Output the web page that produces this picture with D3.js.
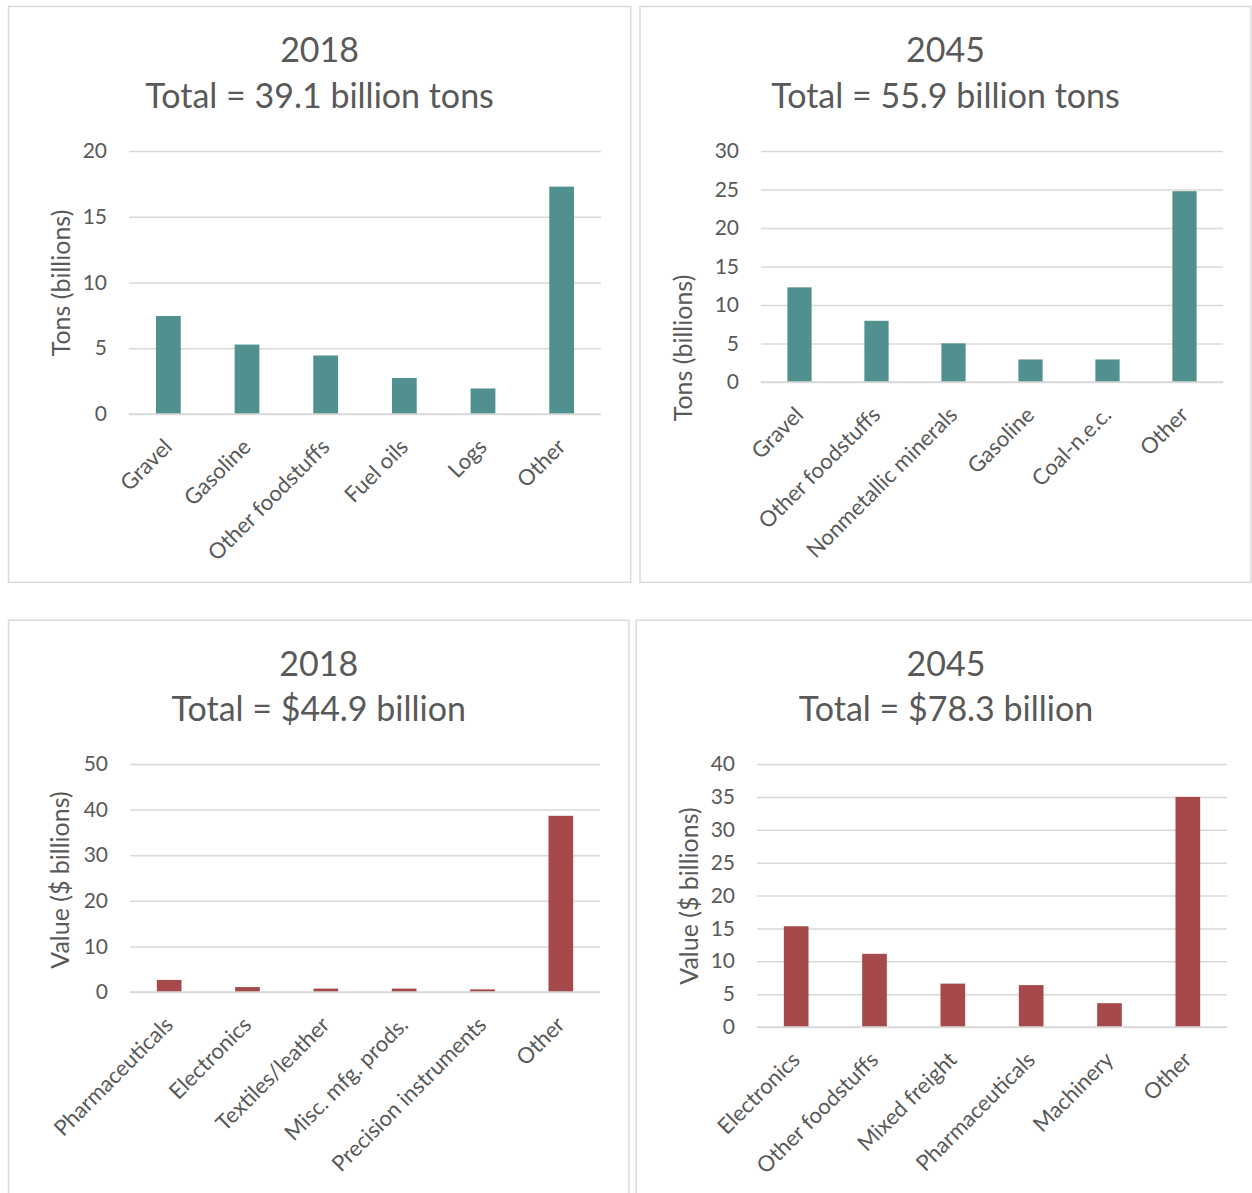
<!DOCTYPE html>
<html>
<head>
<meta charset="utf-8">
<script src="https://cdn.jsdelivr.net/npm/d3@7"></script>
<style>
  html, body { margin: 0; padding: 0; background: #fff; }
  svg { display: block; }
  text { font-family: Lato, "Open Sans", sans-serif; fill: #595959; }
</style>
</head>
<body>
<svg id="chart" width="1252" height="1193"></svg>
<script>
// Freight tonnage (billions of tons) by commodity
const tons2018Categories = ["Gravel", "Gasoline", "Other foodstuffs", "Fuel oils", "Logs", "Other"];
const tons2018Values = [7.45, 5.28, 4.45, 2.74, 1.94, 17.29];
const tons2018Ticks = [0, 5, 10, 15, 20];

const tons2045Categories = ["Gravel", "Other foodstuffs", "Nonmetallic minerals", "Gasoline", "Coal-n.e.c.", "Other"];
const tons2045Values = [12.29, 7.95, 5.02, 2.93, 2.93, 24.78];
const tons2045Ticks = [0, 5, 10, 15, 20, 25, 30];

// Freight value ($ billions) by commodity
const value2018Categories = ["Pharmaceuticals", "Electronics", "Textiles/leather", "Misc. mfg. prods.", "Precision instruments", "Other"];
const value2018Values = [2.65, 1.08, 0.75, 0.75, 0.58, 38.64];
const value2018Ticks = [0, 10, 20, 30, 40, 50];

const value2045Categories = ["Electronics", "Other foodstuffs", "Mixed freight", "Pharmaceuticals", "Machinery", "Other"];
const value2045Values = [15.32, 11.13, 6.6, 6.37, 3.62, 35.0];
const value2045Ticks = [0, 5, 10, 15, 20, 25, 30, 35, 40];

const panelYears = ["2018", "2045", "2018", "2045"];
const panelTotals = ["Total = 39.1 billion tons", "Total = 55.9 billion tons", "Total = $44.9 billion", "Total = $78.3 billion"];
const axisTitles = ["Tons (billions)", "Tons (billions)", "Value ($ billions)", "Value ($ billions)"];

const TEAL = "#50918F";
const RED = "#A5494A";

// Panel geometry: frame, plot area, axis-title centre, title baselines
const panels = [
  { cats: tons2018Categories, vals: tons2018Values, ticks: tons2018Ticks, color: TEAL,
    frame: [8.5, 6.5, 622.2, 575.8], plot: [129, 601, 151, 414], axisTitle: [60, 283], titleY: [62, 108] },
  { cats: tons2045Categories, vals: tons2045Values, ticks: tons2045Ticks, color: TEAL,
    frame: [640, 6.5, 611, 575.8], plot: [761, 1223, 151, 382], axisTitle: [681.5, 348], titleY: [62, 108] },
  { cats: value2018Categories, vals: value2018Values, ticks: value2018Ticks, color: RED,
    frame: [8.5, 620.3, 620.5, 600], plot: [130, 600, 764, 992], axisTitle: [59, 880], titleY: [676, 721] },
  { cats: value2045Categories, vals: value2045Values, ticks: value2045Ticks, color: RED,
    frame: [636.3, 620.3, 620, 600], plot: [757, 1227, 764, 1027], axisTitle: [687.5, 896], titleY: [676, 721] }
];

const svg = d3.select("#chart");
const GAP = 0.685;
const FONT = "Lato, 'Open Sans', sans-serif";

panels.forEach((p, i) => {
  const g = svg.append("g");
  const [fx, fy, fw, fh] = p.frame;
  const [left, right, top, bottom] = p.plot;

  g.append("rect")
    .attr("x", fx).attr("y", fy).attr("width", fw).attr("height", fh)
    .attr("fill", "#fff").attr("stroke", "#D9D9D9").attr("stroke-width", 1.5);

  const centerX = i === 3 ? 946 : fx + fw / 2;
  g.append("text").attr("x", centerX).attr("y", p.titleY[0])
    .attr("text-anchor", "middle").style("font-size", "34px").text(panelYears[i]);
  g.append("text").attr("x", centerX).attr("y", p.titleY[1])
    .attr("text-anchor", "middle").style("font-size", "34px").text(panelTotals[i]);

  const x = d3.scaleBand().domain(p.cats).range([left, right])
    .paddingInner(GAP).paddingOuter(GAP / 2);
  const y = d3.scaleLinear().domain([p.ticks[0], p.ticks[p.ticks.length - 1]]).range([bottom, top]);

  // gridlines + tick labels
  const yAxis = g.append("g").attr("transform", `translate(${left},0)`)
    .call(d3.axisLeft(y).tickValues(p.ticks).tickSize(-(right - left)).tickPadding(22).tickFormat(d3.format("d")));
  yAxis.select(".domain").remove();
  yAxis.selectAll(".tick line").attr("stroke", "#D9D9D9").attr("stroke-width", 1.5);
  yAxis.selectAll(".tick text").style("font-size", "21px").attr("fill", "#595959")
    .style("font-family", FONT);

  // bars
  g.selectAll("rect.bar").data(p.vals).enter().append("rect")
    .attr("class", "bar")
    .attr("x", (d, k) => x(p.cats[k]))
    .attr("width", x.bandwidth())
    .attr("y", d => y(d))
    .attr("height", d => y(0) - y(d))
    .attr("fill", p.color);

  // category axis line
  g.append("line").attr("x1", left).attr("x2", right)
    .attr("y1", y(0)).attr("y2", y(0))
    .attr("stroke", "#D9D9D9").attr("stroke-width", 1.5);

  // category labels, rotated 45 degrees
  const xAxis = g.append("g").attr("transform", `translate(0,${bottom})`)
    .call(d3.axisBottom(x).tickSize(0).tickPadding(0));
  xAxis.select(".domain").remove();
  xAxis.selectAll(".tick text")
    .attr("text-anchor", "end")
    .attr("x", 0).attr("y", 0)
    .attr("transform", "translate(-6,23) rotate(-45)")
    .attr("dy", "0.72em")
    .style("font-size", "22px").attr("fill", "#595959")
    .style("font-family", FONT);

  // axis title
  g.append("text")
    .attr("transform", `translate(${p.axisTitle[0]},${p.axisTitle[1]}) rotate(-90)`)
    .attr("text-anchor", "middle").attr("dominant-baseline", "central")
    .style("font-size", "25px").text(axisTitles[i]);
});
</script>
</body>
</html>
